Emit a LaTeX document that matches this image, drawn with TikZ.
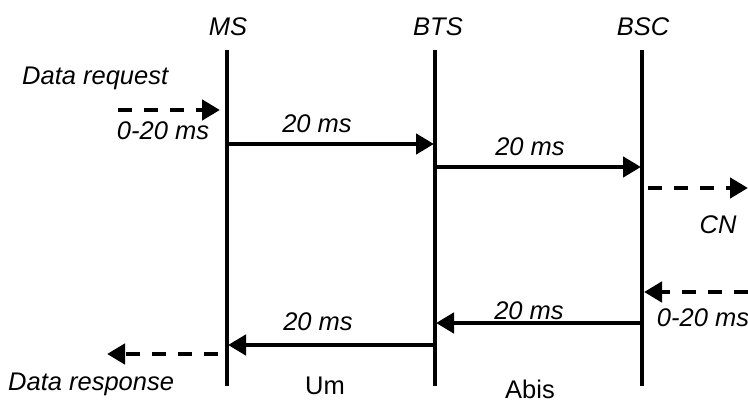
\documentclass[tikz,border=0pt]{standalone}
\usepackage{fontspec}
\setmainfont{Liberation Sans}
\usetikzlibrary{arrows.meta}
\begin{document}
\begin{tikzpicture}[x=1pt,y=-1pt,
  life/.style={line width=4.5pt},
  msg/.style={line width=4.5pt,-{Triangle[length=18pt,width=20pt]}},
  ext/.style={line width=4.5pt,dash pattern=on 14pt off 12pt,-{Triangle[length=18pt,width=20pt]}},
  lbl/.style={font=\fontsize{25.5}{30}\selectfont\itshape,inner sep=0pt},
  ulbl/.style={font=\fontsize{25.5}{30}\selectfont,inner sep=0pt}]
\useasboundingbox (0,0) rectangle (748,403);
% lifelines
\coordinate (msT) at (227,50); \coordinate (msB) at (227,386);
\coordinate (btsT) at (435,50); \coordinate (btsB) at (435,386);
\coordinate (bscT) at (642,50); \coordinate (bscB) at (642,386);
\draw[life] (msT) -- (msB);
\draw[life] (btsT) -- (btsB);
\draw[life] (bscT) -- (bscB);
\node[lbl] (ms) at (228,27) {MS};
\node[lbl] (bts) at (438,27) {BTS};
\node[lbl] (bsc) at (643,27) {BSC};
% request
\node[lbl,anchor=west] (dreq) at (22,78) {Data request};
\coordinate (reqS) at (118,110); \coordinate (reqE) at (220,110);
\draw[ext] (reqS) -- (reqE);
\node[lbl] (req020) at (163,131) {0-20 ms};
% MS -> BTS
\coordinate (a1) at (227,144); \coordinate (b1) at (434,144);
\draw[msg] (a1) -- (b1);
\node[lbl] (l1) at (317,124) {20 ms};
% BTS -> BSC
\coordinate (a2) at (435,167); \coordinate (b2) at (641,167);
\draw[msg] (a2) -- (b2);
\node[lbl] (l2) at (530,147) {20 ms};
% BSC -> CN
\coordinate (cnS) at (648,188); \coordinate (cnE) at (748,188);
\draw[ext] (cnS) -- (cnE);
\node[lbl] (cn) at (718,225) {CN};
% CN -> BSC
\coordinate (inS) at (748,292); \coordinate (inE) at (644,292);
\draw[ext] (inS) -- (inE);
\node[lbl] (in020) at (703,318) {0-20 ms};
% BSC -> BTS
\coordinate (a3) at (642,323); \coordinate (b3) at (436,323);
\draw[msg] (a3) -- (b3);
\node[lbl] (l3) at (529,311) {20 ms};
% BTS -> MS
\coordinate (a4) at (435,345); \coordinate (b4) at (228,345);
\draw[msg] (a4) -- (b4);
\node[lbl] (l4) at (318,322) {20 ms};
% response
\coordinate (rS) at (218,354); \coordinate (rE) at (107,354);
\draw[ext] (rS) -- (rE);
\node[lbl,anchor=west] (dresp) at (8,384) {Data response};
\node[ulbl] (um) at (325,386) {Um};
\node[ulbl] (abis) at (530,389) {Abis};
\end{tikzpicture}
\end{document}
